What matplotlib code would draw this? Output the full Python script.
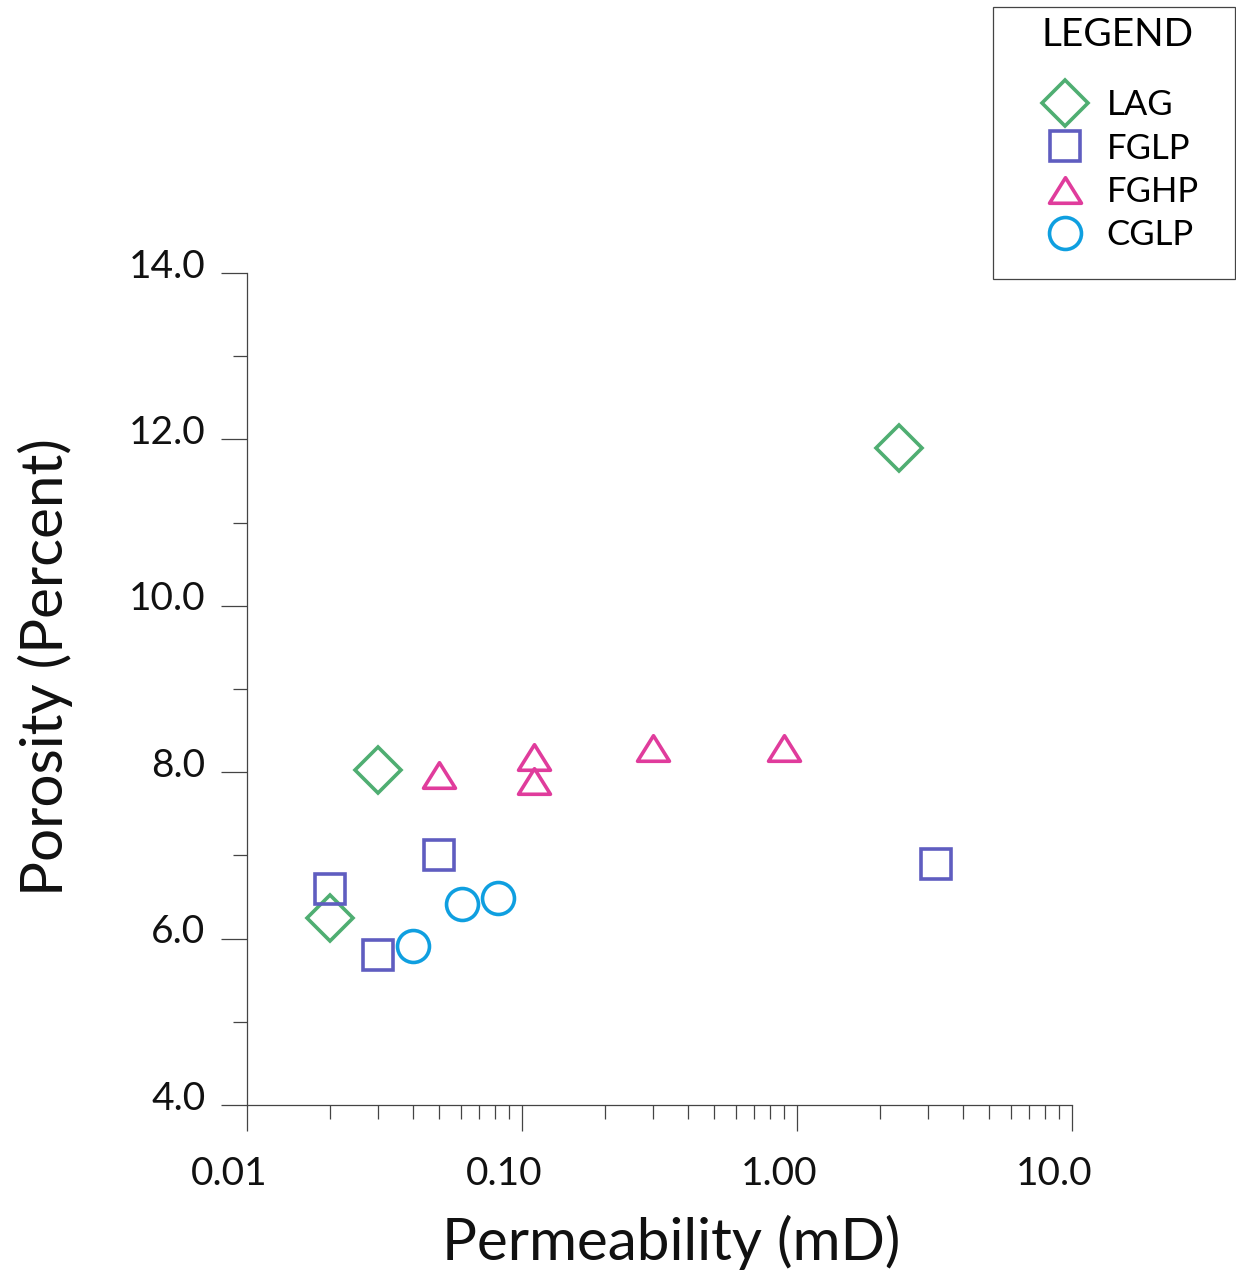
import matplotlib
matplotlib.use("Agg")
import matplotlib.pyplot as plt
from matplotlib.path import Path
from matplotlib.lines import Line2D
from matplotlib.patches import Rectangle
from matplotlib.ticker import FixedLocator, FixedFormatter, NullFormatter
import matplotlib.transforms as mtransforms

plt.rcParams['font.family'] = ['Lato', 'DejaVu Sans']

# Permeability (mD) and porosity (%) by lithofacies
lag_perm = [2.35, 0.030, 0.020]
lag_poro = [11.9, 8.03, 6.25]

fglp_perm = [0.020, 0.050, 0.030, 3.2]
fglp_poro = [6.6, 7.0, 5.8, 6.9]

fghp_perm = [0.050, 0.111, 0.111, 0.30, 0.90]
fghp_poro = [7.97, 8.18, 7.90, 8.29, 8.29]

cglp_perm = [0.040, 0.0605, 0.082]
cglp_poro = [5.91, 6.42, 6.49]

series_names = ["LAG", "FGLP", "FGHP", "CGLP"]

x_ticks = [0.01, 0.1, 1.0, 10.0]
x_ticklabels = ["0.01", "0.10", "1.00", "10.0"]
y_ticks = [4.0, 6.0, 8.0, 10.0, 12.0, 14.0]
y_ticklabels = ["4.0", "6.0", "8.0", "10.0", "12.0", "14.0"]

# Flattened open triangle marker
tri = Path([(-1.0, -0.8), (1.0, -0.8), (0.0, 0.8), (-1.0, -0.8)],
           [Path.MOVETO, Path.LINETO, Path.LINETO, Path.CLOSEPOLY])

styles = {
    "LAG":  dict(marker="D", ms=23, color="#4fae72"),
    "FGLP": dict(marker="s", ms=21.5, color="#5f5dc0"),
    "FGHP": dict(marker=tri, ms=23, color="#e03c9c"),
    "CGLP": dict(marker="o", ms=23, color="#0f9fe0"),
}
data = {
    "LAG": (lag_perm, lag_poro),
    "FGLP": (fglp_perm, fglp_poro),
    "FGHP": (fghp_perm, fghp_poro),
    "CGLP": (cglp_perm, cglp_poro),
}

W, H = 1236, 1275
fig = plt.figure(figsize=(W / 100, H / 100), dpi=100)
ax = fig.add_axes([247 / W, 1 - 1105 / H, (1072 - 247) / W, (1105 - 273) / H])

lw = 2.6
for name in series_names:
    st = styles[name]
    x, y = data[name]
    ax.plot(x, y, linestyle="none", marker=st["marker"], ms=st["ms"],
            mfc="none", mec=st["color"], mew=lw, clip_on=False)

ax.set_xscale("log")
ax.set_xlim(0.01, 10.0)
ax.set_ylim(4.0, 14.0)

for s in ["top", "right"]:
    ax.spines[s].set_visible(False)
for s in ["left", "bottom"]:
    ax.spines[s].set_color("#444444")
    ax.spines[s].set_linewidth(0.9)

ax.xaxis.set_major_locator(FixedLocator(x_ticks))
ax.xaxis.set_major_formatter(FixedFormatter(x_ticklabels))
minor_x = [m * 10.0 ** e for e in (-2, -1, 0) for m in range(2, 10)]
ax.xaxis.set_minor_locator(FixedLocator(minor_x))
ax.xaxis.set_minor_formatter(NullFormatter())

ax.yaxis.set_major_locator(FixedLocator(y_ticks))
ax.yaxis.set_major_formatter(FixedFormatter(y_ticklabels))
ax.yaxis.set_minor_locator(FixedLocator([5, 7, 9, 11, 13]))

ax.tick_params(which="major", direction="out", length=19, width=0.9,
               color="#444444", labelsize=28, labelcolor="#111111")
ax.tick_params(which="minor", direction="out", length=10, width=0.9,
               color="#444444")
ax.tick_params(axis="x", which="major", pad=18)
ax.tick_params(axis="y", which="major", pad=11)

# Nudge tick labels slightly left / up
for lbl in ax.get_xticklabels():
    lbl.set_transform(lbl.get_transform() +
                      mtransforms.ScaledTranslation(-18 / 100, 0, fig.dpi_scale_trans))
for lbl in ax.get_yticklabels():
    lbl.set_transform(lbl.get_transform() +
                      mtransforms.ScaledTranslation(0, 10 / 100, fig.dpi_scale_trans))

ax.set_xlabel("Permeability (mD)", fontsize=42, color="#111111", labelpad=16)
ax.set_ylabel("Porosity (Percent)", fontsize=42, color="#111111", labelpad=40)
ax.xaxis.label.set_x(0.5 + 12 / 825)
ax.yaxis.label.set_y(0.5 + 22 / 832)

# Legend box
fig.patches.append(Rectangle((993 / W, 1 - 279 / H), (1235 - 993) / W, (279 - 7) / H,
                             transform=fig.transFigure, fill=False,
                             edgecolor="#444444", linewidth=0.9))

handles = []
for name in series_names:
    st = styles[name]
    handles.append(Line2D([], [], linestyle="none", marker=st["marker"],
                          ms=st["ms"], mfc="none", mec=st["color"], mew=lw))

leg = fig.legend(handles, series_names, title="LEGEND",
                 loc="upper center", bbox_to_anchor=(1118 / W, 1 - 17 / H),
                 frameon=False, fontsize=25, title_fontsize=28,
                 labelspacing=0.33, handletextpad=0.4,
                 borderpad=0, handlelength=1.6, borderaxespad=0)
leg._legend_box.sep = 26

fig.savefig("out.png", dpi=100, facecolor="white")
